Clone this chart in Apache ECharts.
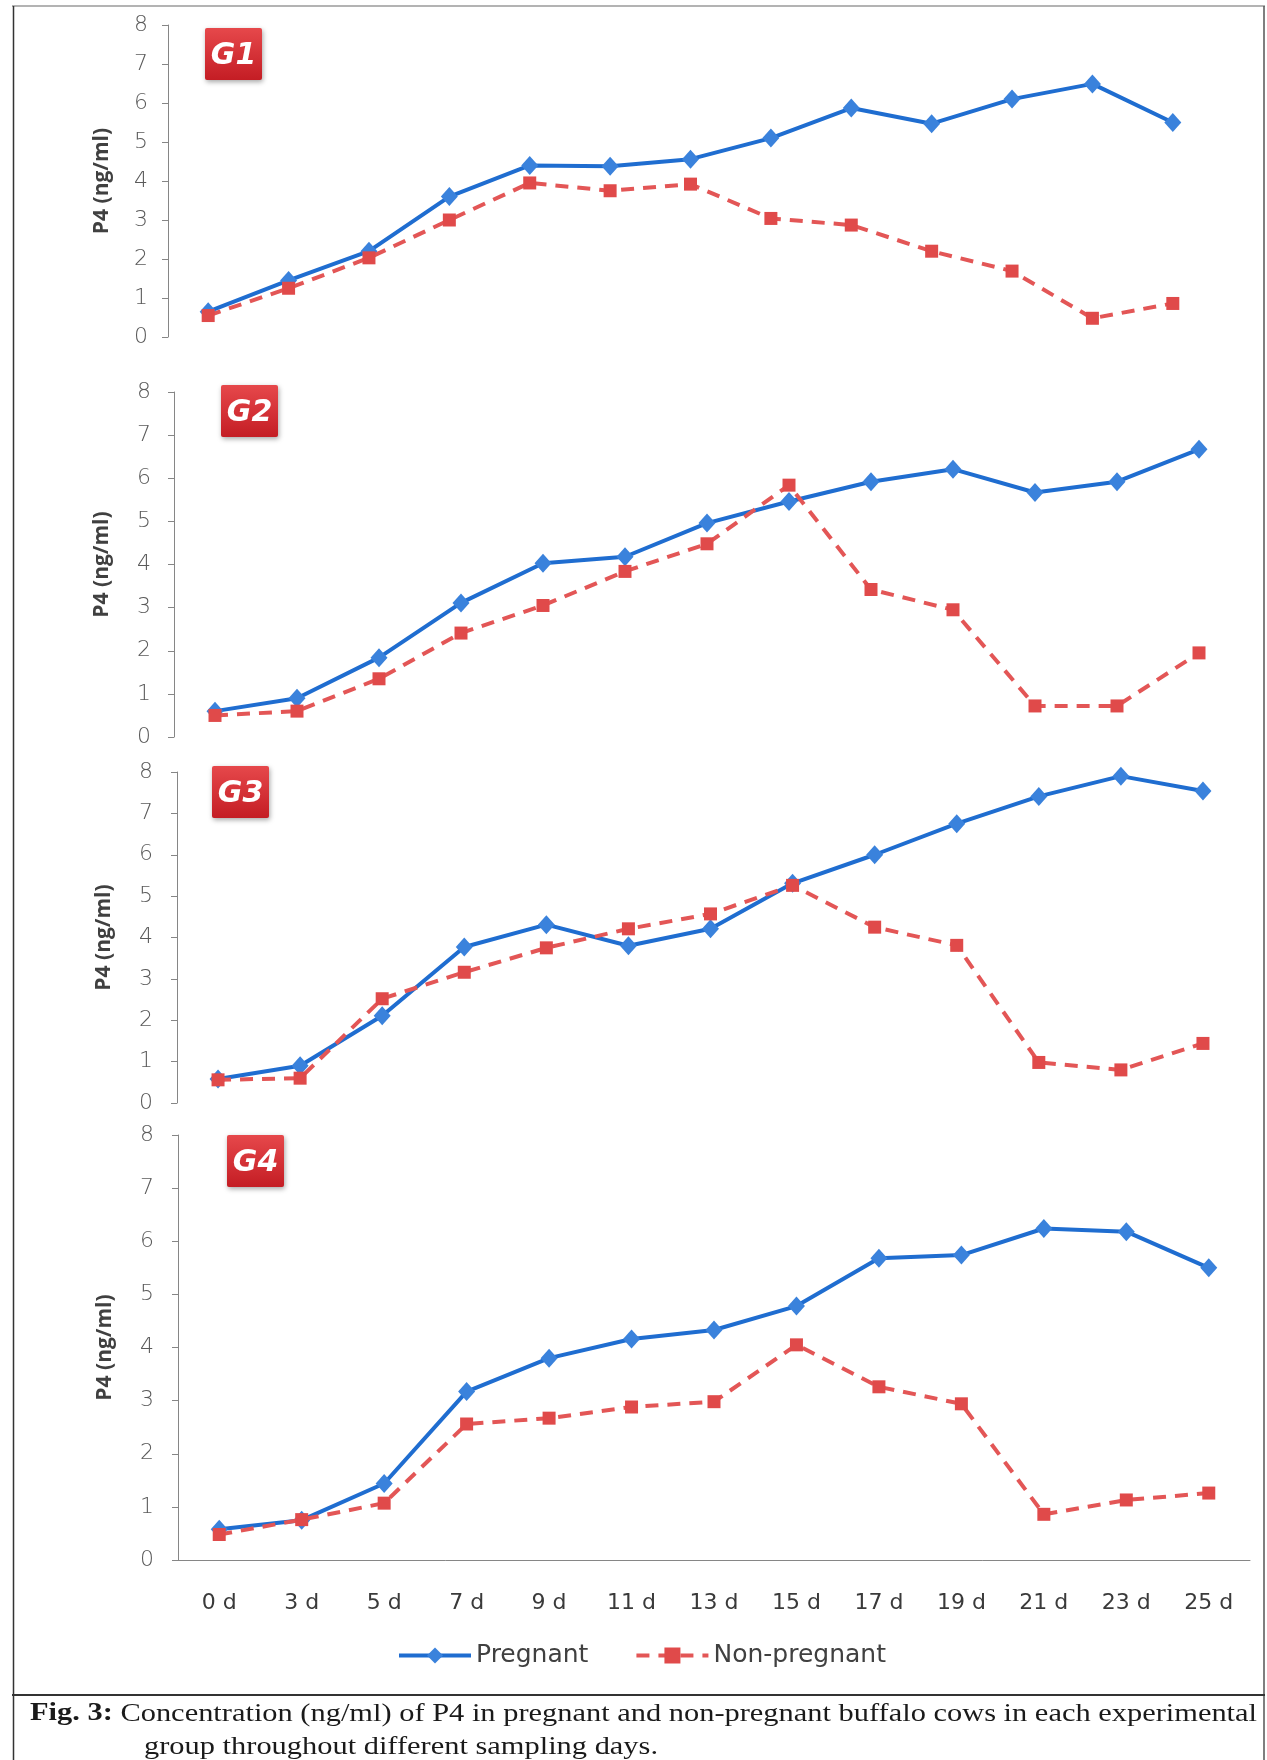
<!DOCTYPE html>
<html>
<head>
<meta charset="utf-8">
<title>P4 concentration in buffalo cows</title>
<script src="https://cdn.jsdelivr.net/npm/echarts@6/dist/echarts.min.js"></script>
<style>
  html, body { margin: 0; padding: 0; background: #ffffff; }
  #chart { width: 1267px; height: 1760px; }
</style>
</head>
<body>
<div id="chart"></div>
<script>
// Sampling days (category axis)
const days = ['0 d', '3 d', '5 d', '7 d', '9 d', '11 d', '13 d', '15 d', '17 d', '19 d', '21 d', '23 d', '25 d'];

// P4 concentration (ng/ml) per experimental group
const g1Pregnant    = [0.65, 1.45, 2.20, 3.60, 4.40, 4.38, 4.56, 5.10, 5.87, 5.47, 6.10, 6.49, 5.50];
const g1NonPregnant = [0.55, 1.25, 2.03, 3.00, 3.95, 3.75, 3.92, 3.04, 2.87, 2.20, 1.69, 0.48, 0.86];
const g2Pregnant    = [0.60, 0.90, 1.84, 3.11, 4.03, 4.18, 4.96, 5.46, 5.92, 6.21, 5.67, 5.92, 6.67];
const g2NonPregnant = [0.50, 0.60, 1.35, 2.41, 3.05, 3.84, 4.48, 5.84, 3.42, 2.95, 0.72, 0.72, 1.95];
const g3Pregnant    = [0.58, 0.90, 2.11, 3.77, 4.31, 3.80, 4.21, 5.31, 6.00, 6.75, 7.41, 7.90, 7.54];
const g3NonPregnant = [0.56, 0.60, 2.52, 3.16, 3.75, 4.21, 4.57, 5.26, 4.25, 3.81, 0.98, 0.80, 1.44];
const g4Pregnant    = [0.58, 0.75, 1.44, 3.17, 3.80, 4.16, 4.33, 4.78, 5.68, 5.74, 6.24, 6.18, 5.50];
const g4NonPregnant = [0.48, 0.76, 1.07, 2.56, 2.67, 2.88, 2.98, 4.05, 3.26, 2.94, 0.86, 1.13, 1.26];

// Group labels and y-axis
const groupNames = ['G1', 'G2', 'G3', 'G4'];
const yMin = 0, yMax = 8, yStep = 1;
const yTitle = 'P4 (ng/ml)';
const seriesNames = ['Pregnant', 'Non-pregnant'];

const pregnantByGroup = [g1Pregnant, g2Pregnant, g3Pregnant, g4Pregnant];
const nonPregnantByGroup = [g1NonPregnant, g2NonPregnant, g3NonPregnant, g4NonPregnant];

// Panel geometry (px)
const panels = [
  { left: 168, width: 1045, top: 25,   height: 312, nameGap: 55, labelMargin: 20, box: [205, 28] },
  { left: 174, width: 1066, top: 392,  height: 345, nameGap: 61, labelMargin: 23, box: [221, 385] },
  { left: 177, width: 1067, top: 772,  height: 331, nameGap: 62, labelMargin: 24, box: [212, 766] },
  { left: 178, width: 1072, top: 1135, height: 425, nameGap: 62, labelMargin: 24, box: [227, 1135] }
];

const AXIS_GREY = '#868686';
const SANS = 'DejaVu Sans';
const SERIF = 'Liberation Serif';
const BLUE_LINE = '#1f6dd0';
const BLUE_MARK = '#3a82dc';
const RED_LINE = '#e35656';
const RED_MARK = '#e04a4a';

const grids = [], xAxes = [], yAxes = [], series = [];
panels.forEach((p, i) => {
  const last = i === panels.length - 1;
  grids.push({ left: p.left, top: p.top, width: p.width, height: p.height, containLabel: false });
  xAxes.push({
    type: 'category', gridIndex: i, data: days, boundaryGap: true,
    axisLine: { show: last, lineStyle: { color: AXIS_GREY, width: 1 } },
    axisTick: { show: false },
    axisLabel: { show: last, color: '#3a3a3a', fontFamily: SANS, fontSize: 22, margin: 32 },
    splitLine: { show: false }
  });
  yAxes.push({
    type: 'value', gridIndex: i, min: yMin, max: yMax, interval: yStep,
    name: yTitle, nameLocation: 'middle', nameGap: p.nameGap,
    nameTextStyle: { fontFamily: 'Open Sans', fontWeight: 'bold', fontSize: 21, color: '#404040' },
    axisLine: { show: true, lineStyle: { color: AXIS_GREY, width: 1 } },
    axisTick: { show: true, inside: false, length: 6, lineStyle: { color: AXIS_GREY } },
    axisLabel: { color: '#5a5a5a', fontFamily: SANS, fontWeight: 200, fontSize: 22, margin: p.labelMargin },
    splitLine: { show: false }
  });
  series.push({
    name: seriesNames[0], type: 'line', xAxisIndex: i, yAxisIndex: i,
    data: pregnantByGroup[i],
    symbol: 'diamond', symbolSize: [17, 19], showAllSymbol: true,
    itemStyle: { color: BLUE_MARK },
    lineStyle: { color: BLUE_LINE, width: 4 },
    z: 2
  });
  series.push({
    name: seriesNames[1], type: 'line', xAxisIndex: i, yAxisIndex: i,
    data: nonPregnantByGroup[i],
    symbol: 'rect', symbolSize: 13, showAllSymbol: true,
    itemStyle: { color: RED_MARK },
    lineStyle: { color: RED_LINE, width: 4, type: [13, 9] },
    z: 3
  });
});

// Red group badges
const badges = panels.map((p, i) => ({
  type: 'group', x: p.box[0], y: p.box[1],
  children: [
    {
      type: 'rect', shape: { x: 0, y: 0, width: 57, height: 52, r: 2 },
      style: {
        fill: new echarts.graphic.LinearGradient(0, 0, 0, 1, [
          { offset: 0, color: '#e6484b' }, { offset: 1, color: '#c41d24' }
        ]),
        shadowBlur: 5, shadowColor: 'rgba(0,0,0,0.35)', shadowOffsetX: 1, shadowOffsetY: 2
      }
    },
    {
      type: 'text', x: 28.5, y: 28,
      style: {
        text: groupNames[i], fill: '#ffffff', align: 'center', verticalAlign: 'middle',
        fontFamily: SANS, fontSize: 30, fontWeight: 'bold', fontStyle: 'italic'
      }
    }
  ]
}));

// Caption, stretched to the full width of its box
const captionBold = 'Fig. 3:';
const captionRest = ' Concentration (ng/ml) of P4 in pregnant and non-pregnant buffalo cows in each experimental';
const captionLine2 = 'group throughout different sampling days.';
const capSize = 25;
const ctx = document.createElement('canvas').getContext('2d');
ctx.font = 'bold ' + capSize + 'px "' + SERIF + '"';
const wBold = ctx.measureText(captionBold).width;
ctx.font = capSize + 'px "' + SERIF + '"';
const wRest = ctx.measureText(captionRest).width;
const capScale = 1227 / (wBold + wRest);

const captionStyle = { fontFamily: SERIF, fontSize: capSize, fill: '#1a1a1a' };
const caption = [
  {
    type: 'text', x: 30, y: 1714, scaleX: capScale,
    style: {
      text: '{b|' + captionBold + '}{n|' + captionRest + '}',
      verticalAlign: 'middle',
      rich: {
        b: Object.assign({ fontWeight: 'bold' }, captionStyle),
        n: Object.assign({}, captionStyle)
      }
    }
  },
  {
    type: 'text', x: 144, y: 1747, scaleX: capScale,
    style: Object.assign({ text: captionLine2, verticalAlign: 'middle' }, captionStyle)
  }
];

// Figure frame
const frame = [
  { type: 'line', shape: { x1: 12, y1: 6, x2: 1265, y2: 6 }, style: { stroke: '#9a9a9a', lineWidth: 1.5 } },
  { type: 'line', shape: { x1: 13.5, y1: 6, x2: 13.5, y2: 1760 }, style: { stroke: '#333333', lineWidth: 1.5 } },
  { type: 'line', shape: { x1: 1264, y1: 6, x2: 1264, y2: 1760 }, style: { stroke: '#555555', lineWidth: 1.5 } },
  { type: 'line', shape: { x1: 12, y1: 1695, x2: 1265, y2: 1695 }, style: { stroke: '#333333', lineWidth: 2 } }
];

const chart = echarts.init(document.getElementById('chart'), null, { renderer: 'canvas' });
chart.setOption({
  backgroundColor: '#ffffff',
  animation: false,
  grid: grids,
  xAxis: xAxes,
  yAxis: yAxes,
  series: series,
  legend: {
    data: seriesNames, left: 392, top: 1638,
    itemWidth: 72, itemHeight: 20, itemGap: 46,
    lineStyle: { width: 4 },
    textStyle: { fontFamily: SANS, fontSize: 25, color: '#404040' }
  },
  graphic: frame.concat(badges, caption)
});
</script>
</body>
</html>
